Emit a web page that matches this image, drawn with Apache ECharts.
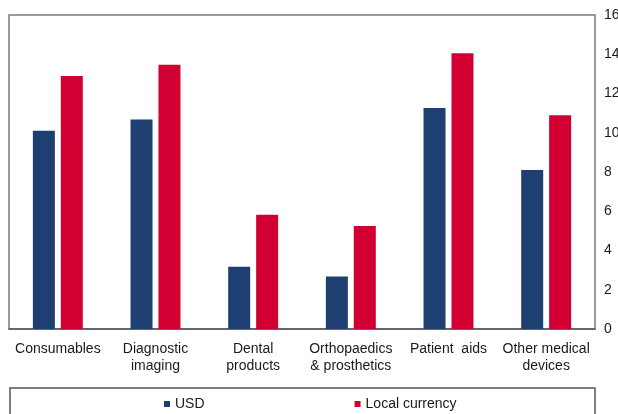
<!DOCTYPE html>
<html>
<head>
<meta charset="utf-8">
<script src="https://cdn.jsdelivr.net/npm/echarts@6/dist/echarts.min.js"></script>
<style>
  html, body { margin: 0; padding: 0; background: #fff; }
  #chart { width: 618px; height: 414px; }
</style>
</head>
<body>
<div id="chart"></div>
<script>
// Medical device categories and growth values by currency basis
const categories = [
  'Consumables',
  'Diagnostic\nimaging',
  'Dental\nproducts',
  'Orthopaedics\n& prosthetics',
  'Patient  aids',
  'Other medical\ndevices'
];
const usdValues = [10.1, 10.67, 3.17, 2.67, 11.26, 8.1];
const localValues = [12.89, 13.47, 5.82, 5.25, 14.05, 10.89];
const yTicks = { min: 0, max: 16, interval: 2 };

const font = 'Liberation Sans, Arial, sans-serif';
const chart = echarts.init(document.getElementById('chart'), null, { renderer: 'canvas' });

chart.setOption({
  animation: false,
  backgroundColor: '#ffffff',
  textStyle: { fontFamily: font },
  grid: {
    left: 9, right: 23, top: 15, bottom: 85,
    show: true, borderColor: '#7a7a7a', borderWidth: 1.5,
    containLabel: false,
    outerBoundsMode: 'none'
  },
  legend: {
    left: 159, top: 392,
    itemWidth: 6, itemHeight: 6, itemGap: 150,
    icon: 'rect',
    textStyle: { fontFamily: font, fontSize: 14, color: '#1a1a1a' },
    data: ['USD', 'Local currency']
  },
  graphic: [{
    type: 'rect',
    shape: { x: 10, y: 388, width: 585, height: 40 },
    style: { fill: 'none', stroke: '#555', lineWidth: 1.5 },
    silent: true
  }],
  xAxis: {
    type: 'category',
    data: categories,
    axisLine: { show: true, lineStyle: { color: '#555', width: 1.5 } },
    axisTick: { show: false },
    axisLabel: {
      interval: 0, margin: 12,
      fontFamily: font, fontSize: 14, color: '#1a1a1a', lineHeight: 17
    }
  },
  yAxis: {
    type: 'value',
    position: 'right',
    min: yTicks.min, max: yTicks.max, interval: yTicks.interval,
    splitLine: { show: false },
    axisLine: { show: false },
    axisTick: { show: false },
    axisLabel: { margin: 9, fontFamily: font, fontSize: 14, color: '#1a1a1a' }
  },
  series: [
    {
      name: 'USD', type: 'bar', data: usdValues,
      barWidth: 22, barGap: '27%',
      itemStyle: { color: '#1d3f72' }
    },
    {
      name: 'Local currency', type: 'bar', data: localValues,
      barWidth: 22,
      itemStyle: { color: '#d20032' }
    }
  ]
});
</script>
</body>
</html>
